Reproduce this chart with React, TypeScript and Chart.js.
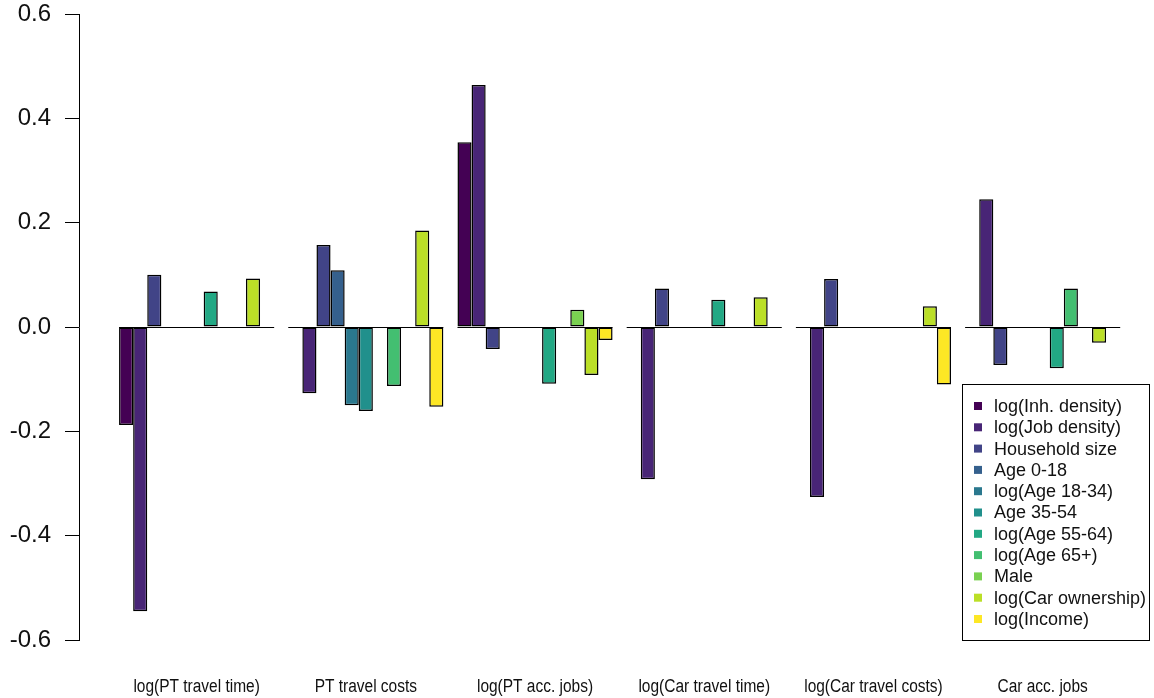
import React, { useEffect, useRef } from "react";
import { Chart, registerables } from "chart.js";

Chart.register(...registerables);

const categories = [
  "log(PT travel time)",
  "PT travel costs",
  "log(PT acc. jobs)",
  "log(Car travel time)",
  "log(Car travel costs)",
  "Car acc. jobs",
];

const seriesNames = [
  "log(Inh. density)",
  "log(Job density)",
  "Household size",
  "Age 0-18",
  "log(Age 18-34)",
  "Age 35-54",
  "log(Age 55-64)",
  "log(Age 65+)",
  "Male",
  "log(Car ownership)",
  "log(Income)",
];

const seriesColors = [
  "#440154",
  "#482576",
  "#414487",
  "#35608D",
  "#2A788E",
  "#21908C",
  "#22A884",
  "#43BF71",
  "#7AD151",
  "#BBDF27",
  "#FDE725",
];

// values per series, one per category
const inhDensity = [-0.188, 0, 0.354, 0, 0, 0];
const jobDensity = [-0.545, -0.127, 0.464, -0.292, -0.326, 0.245];
const householdSize = [0.1, 0.157, -0.042, 0.074, 0.092, -0.073];
const age0to18 = [0, 0.109, 0, 0, 0, 0];
const age18to34 = [0, -0.15, 0, 0, 0, 0];
const age35to54 = [0, -0.161, 0, 0, 0, 0];
const age55to64 = [0.068, 0, -0.109, 0.052, 0, -0.079];
const age65plus = [0, -0.113, 0, 0, 0, 0.074];
const male = [0, 0, 0.033, 0, 0, 0];
const carOwnership = [0.093, 0.185, -0.092, 0.057, 0.04, -0.03];
const income = [0, -0.153, -0.025, 0, -0.11, 0];

const seriesValues = [
  inhDensity,
  jobDensity,
  householdSize,
  age0to18,
  age18to34,
  age35to54,
  age55to64,
  age65plus,
  male,
  carOwnership,
  income,
];

const yTickValues = [-0.6, -0.4, -0.2, 0, 0.2, 0.4, 0.6];
const yTickLabels = ["-0.6", "-0.4", "-0.2", "0.0", "0.2", "0.4", "0.6"];

const zeroLinePlugin = {
  id: "zeroLines",
  afterDatasetsDraw(chart: any) {
    const ctx = chart.ctx;
    const y0 = chart.scales.y.getPixelForValue(0);
    const first = chart.getDatasetMeta(0);
    const last = chart.getDatasetMeta(chart.data.datasets.length - 1);
    ctx.save();
    ctx.strokeStyle = "#000";
    ctx.lineWidth = 1;
    for (let i = 0; i < categories.length; i++) {
      const a = first.data[i];
      const b = last.data[i];
      if (!a || !b) continue;
      const left = a.x - a.width / 2;
      const right = b.x + b.width / 2;
      ctx.beginPath();
      ctx.moveTo(left, Math.round(y0) + 0.5);
      ctx.lineTo(right, Math.round(y0) + 0.5);
      ctx.stroke();
    }
    ctx.restore();
  },
};

const categoryLabelPlugin = {
  id: "categoryLabels",
  afterDraw(chart: any) {
    const ctx = chart.ctx;
    const xs = chart.scales.x;
    ctx.save();
    ctx.font = "18px 'Liberation Sans', Arial, sans-serif";
    ctx.fillStyle = "#111";
    ctx.textAlign = "center";
    ctx.textBaseline = "middle";
    categories.forEach((label, i) => {
      const x = xs.getPixelForValue(i);
      ctx.save();
      ctx.translate(x, 687);
      ctx.scale(0.86, 1);
      ctx.fillText(label, 0, 0);
      ctx.restore();
    });
    ctx.restore();
  },
};

const boxLegendPlugin = {
  id: "boxLegend",
  afterDraw(chart: any) {
    const ctx = chart.ctx;
    ctx.save();
    ctx.strokeStyle = "#000";
    ctx.lineWidth = 1;
    ctx.strokeRect(962.5, 384.5, 187, 256);
    ctx.font = "18px 'Liberation Sans', Arial, sans-serif";
    ctx.textBaseline = "middle";
    ctx.textAlign = "left";
    chart.data.datasets.forEach((ds: any, i: number) => {
      const cy = 406 + i * 21.3;
      ctx.fillStyle = ds.backgroundColor;
      ctx.fillRect(974, cy - 4, 8, 8);
      ctx.fillStyle = "#111";
      ctx.fillText(ds.label, 994, cy + 1);
    });
    ctx.restore();
  },
};

export default function App() {
  const ref = useRef<HTMLCanvasElement | null>(null);

  useEffect(() => {
    if (!ref.current) return;
    const chart = new Chart(ref.current, {
      type: "bar",
      data: {
        datasets: seriesNames.map((name, s) => ({
          label: name,
          data: seriesValues[s].map((v, i) => ({ x: i, y: v })),
          backgroundColor: seriesColors[s],
          borderColor: "#000",
          borderWidth: 1.5,
          borderSkipped: false,
          inflateAmount: 0,
          categoryPercentage: 11 / 12,
          barPercentage: 1,
        })),
      },
      options: {
        animation: false,
        responsive: false,
        layout: { padding: { top: 14, right: 0, bottom: 0, left: 0 } },
        plugins: {
          legend: { display: false },
          tooltip: { enabled: false },
        },
        scales: {
          x: {
            type: "linear",
            min: -0.695,
            max: 5.658,
            offset: false,
            grid: { display: false, drawTicks: false },
            border: { display: false },
            afterBuildTicks: (scale: any) => {
              scale.ticks = categories.map((_, i) => ({ value: i }));
            },
            afterFit: (scale: any) => {
              scale.height = 58;
              scale.paddingLeft = 0;
              scale.paddingRight = 0;
            },
            ticks: { display: false },
          },
          y: {
            type: "linear",
            min: -0.6,
            max: 0.6,
            grid: {
              display: true,
              drawOnChartArea: false,
              drawTicks: true,
              tickLength: 14,
              color: "#000",
              lineWidth: 1,
            },
            border: { display: true, color: "#000", width: 1 },
            afterBuildTicks: (scale: any) => {
              scale.ticks = yTickValues.map((v) => ({ value: v }));
            },
            afterFit: (scale: any) => {
              scale.width = 79;
              scale.paddingTop = 0;
              scale.paddingBottom = 0;
            },
            ticks: {
              padding: 14,
              color: "#111",
              font: { family: "'Liberation Sans', Arial", size: 24, lineHeight: 1 },
              callback: (_v: any, i: number) => yTickLabels[i],
            },
          },
        },
      },
      plugins: [zeroLinePlugin, categoryLabelPlugin, boxLegendPlugin],
    } as any);
    return () => chart.destroy();
  }, []);

  return (
    <div style={{ position: "absolute", left: 0, top: 0, width: 1154, height: 698 }}>
      <canvas ref={ref} width={1154} height={698} />
    </div>
  );
}
